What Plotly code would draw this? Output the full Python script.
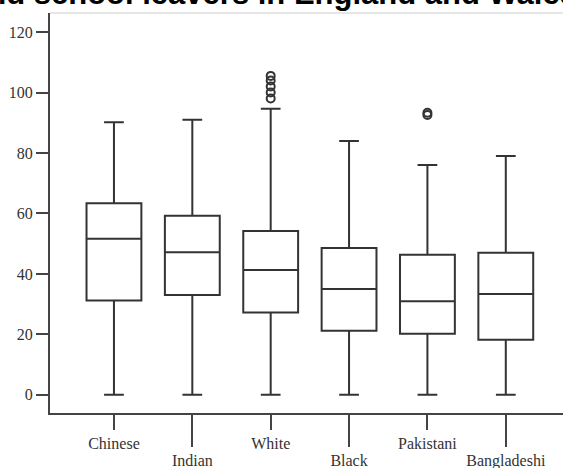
import plotly.graph_objects as go

categories = ["Chinese", "Indian", "White", "Black", "Pakistani", "Bangladeshi"]
lower_whisker = [0, 0, 0, 0, 0, 0]
q1 = [31.2, 33.0, 27.2, 21.2, 20.2, 18.2]
median = [51.6, 47.2, 41.3, 35.0, 31.0, 33.4]
q3 = [63.4, 59.2, 54.2, 48.6, 46.3, 47.0]
upper_whisker = [90.2, 91.0, 94.6, 84.0, 76.0, 79.0]
outlier_cat = ["White", "White", "White", "White", "White", "Pakistani", "Pakistani"]
outlier_val = [98.0, 100.0, 102.0, 104.0, 105.5, 92.6, 93.3]
y_ticks = [0, 20, 40, 60, 80, 100, 120]
title_text = "and school leavers in England and Wales"

pos = list(range(len(categories)))
idx = {c: i for i, c in enumerate(categories)}

fig = go.Figure()
fig.add_trace(go.Box(
    x=pos, q1=q1, median=median, q3=q3,
    lowerfence=lower_whisker, upperfence=upper_whisker,
    width=0.7, whiskerwidth=0.36, boxpoints=False,
    fillcolor="white", line=dict(color="#333333", width=2),
    showlegend=False, xaxis="x", yaxis="y",
))
fig.add_trace(go.Scatter(
    x=[idx[c] for c in outlier_cat], y=outlier_val, mode="markers",
    marker=dict(symbol="circle-open", size=8, color="#333333", line=dict(width=2)),
    showlegend=False, xaxis="x", yaxis="y",
))

tick_font = dict(family="Liberation Serif, Times New Roman, serif", size=16, color="#333333")

fig.update_layout(
    width=563, height=468,
    margin=dict(l=50, r=0, t=13, b=55, autoexpand=False),
    paper_bgcolor="white", plot_bgcolor="white",
    xaxis=dict(
        range=[-0.816, 5.73], showgrid=False, zeroline=False, automargin=False,
        showline=True, linecolor="#444444", linewidth=2,
        tickmode="array", tickvals=pos[0::2], ticktext=categories[0::2],
        ticks="outside", ticklen=15, tickwidth=2, tickcolor="#444444",
        tickfont=tick_font,
    ),
    xaxis2=dict(
        range=[-0.816, 5.73], overlaying="x", anchor="y", side="bottom",
        showgrid=False, zeroline=False, showline=False, automargin=False,
        tickmode="array", tickvals=pos[1::2], ticktext=categories[1::2],
        ticks="outside", ticklen=33, tickwidth=2, tickcolor="#444444",
        tickfont=tick_font,
    ),
    yaxis=dict(
        range=[-6, 126.3], showgrid=False, zeroline=False, automargin=False,
        showline=True, linecolor="#444444", linewidth=2,
        tickmode="array", tickvals=y_ticks,
        ticks="outside", ticklen=12, tickwidth=2, tickcolor="#444444",
        tickfont=tick_font,
    ),
    shapes=[dict(type="line", xref="paper", yref="paper", x0=0, x1=1, y0=1, y1=1,
                 line=dict(color="#cccccc", width=1))],
    annotations=[dict(
        text="<b>" + title_text + "</b>", xref="paper", yref="paper",
        x=-0.16, y=1.0, xanchor="left", yanchor="bottom",
        showarrow=False,
        font=dict(family="Liberation Sans, Arial, sans-serif", size=31, color="black"),
    )],
)
# invisible trace to activate xaxis2
fig.add_trace(go.Scatter(x=[0], y=[None], xaxis="x2", yaxis="y", showlegend=False,
                         mode="markers", hoverinfo="skip"))

fig.write_html(
    "out.html",
    config={"displayModeBar": False},
    post_script="document.body.style.margin='0';document.body.style.overflow='hidden';",
)
